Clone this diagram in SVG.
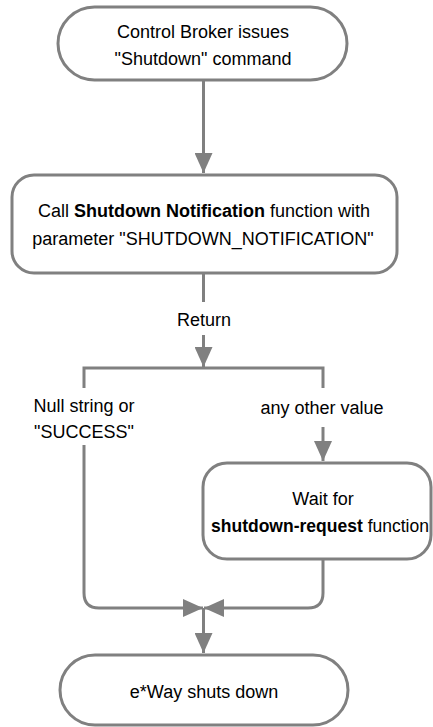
<svg xmlns="http://www.w3.org/2000/svg" width="433" height="727" viewBox="0 0 433 727">
<style>
.node{fill:#ffffff;stroke:#808080;stroke-width:3}
.conn{fill:none;stroke:#808080;stroke-width:3}
text{font-family:"Liberation Sans",Arial,sans-serif;font-size:18px;fill:#000000;text-anchor:middle}
.b{font-weight:bold}
</style>
<defs>
<marker id="arr" markerUnits="userSpaceOnUse" markerWidth="20" markerHeight="18" refX="20" refY="9" orient="auto" viewBox="0 0 20 18">
<path d="M0,0 L20,9 L0,18 z" fill="#808080"/>
</marker>
</defs>
<rect width="433" height="727" fill="#ffffff"/>
<g id="connectors">
<path class="conn" d="M203.5 80 V173" marker-end="url(#arr)"/>
<path class="conn" d="M203.5 273 V302"/>
<path class="conn" d="M203.5 335 V367" marker-end="url(#arr)"/>
<path class="conn" d="M84 388 V368 H323 V388"/>
<path class="conn" d="M323 427 V461" marker-end="url(#arr)"/>
<path class="conn" d="M84 445 V593 Q84 608 99 608 H203" marker-end="url(#arr)"/>
<path class="conn" d="M323 559 V593 Q323 608 308 608 H204" marker-end="url(#arr)"/>
<path class="conn" d="M203.5 608 V653" marker-end="url(#arr)"/>
<text x="204" y="326">Return</text>
<text x="84" y="412">Null string or</text>
<text x="84" y="438">"SUCCESS"</text>
<text x="322" y="414">any other value</text>
</g>
<g id="start">
<rect class="node" x="58" y="7" width="289" height="73" rx="36.5"/>
<text x="203" y="38">Control Broker issues</text>
<text x="203" y="65">"Shutdown" command</text>
</g>
<g id="call">
<rect class="node" x="12" y="175" width="385" height="98" rx="22"/>
<text x="204" y="217">Call <tspan class="b">Shutdown Notification</tspan> function with</text>
<text x="203" y="245">parameter "SHUTDOWN_NOTIFICATION"</text>
</g>
<g id="wait">
<rect class="node" x="203" y="463" width="228" height="96" rx="24"/>
<text x="323" y="505">Wait for</text>
<text x="211" y="532" style="text-anchor:start" textLength="218" lengthAdjust="spacingAndGlyphs"><tspan class="b">shutdown-request</tspan> function</text>
</g>
<g id="end">
<rect class="node" x="60" y="655" width="288" height="70" rx="35"/>
<text x="204" y="698">e*Way shuts down</text>
</g>
</svg>
